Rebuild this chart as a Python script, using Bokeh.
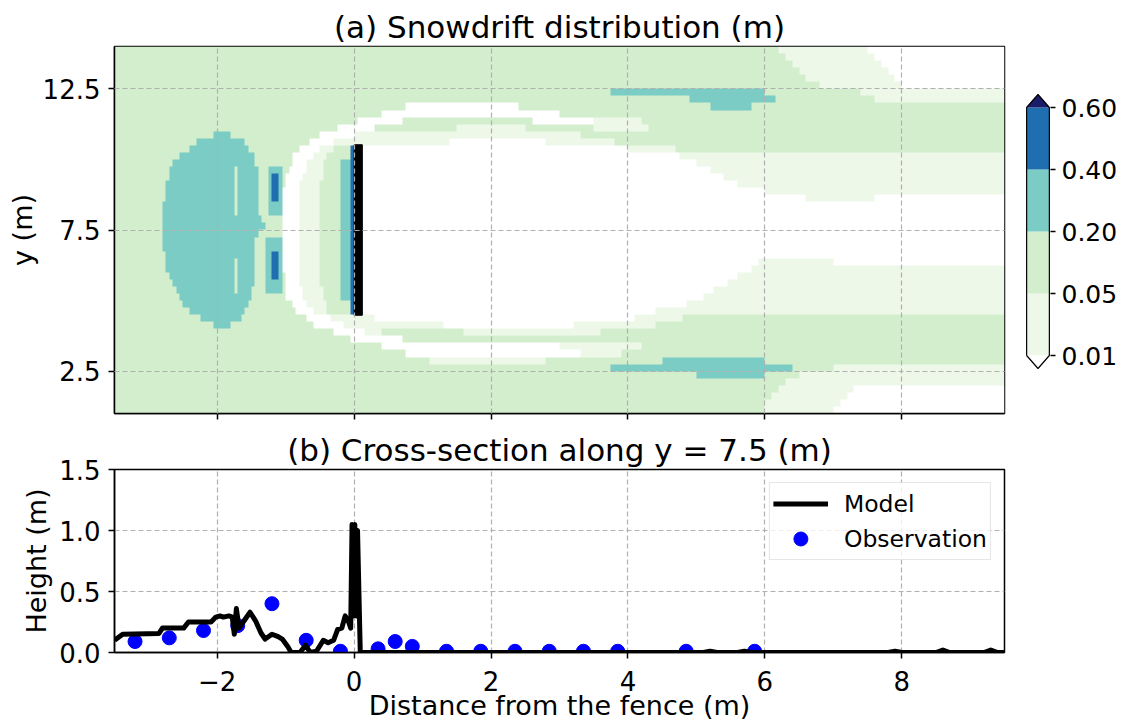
import numpy as np
from bokeh.plotting import figure
from bokeh.layouts import column, row
from bokeh.models import Range1d, FixedTicker, LinearColorMapper, Legend, LegendItem
from bokeh.embed import file_html
from bokeh.resources import INLINE

FONT = "DejaVu Sans"

# ---------------- domain ----------------
x_lo, x_hi = -3.5, 9.5
y_lo, y_hi = 1.0, 14.0
grid_dx = 0.05          # column width of the drift raster (m)

# ---------------- contour levels ----------------
level_bounds = [0.01, 0.05, 0.20, 0.40, 0.60]
level_labels = ["0.01", "0.05", "0.20", "0.40", "0.60"]
# under, 0.01-0.05, 0.05-0.20, 0.20-0.40, 0.40-0.60, over
level_colors = ["#ffffff", "#eef8e9", "#d3eecd", "#7bccc4", "#1f6fb0", "#1b1d6b"]

# Snowdrift depth class per 0.25 m strip, from y = 14 (top) down to y = 1.
# Each strip: "class|x_break|class|x_break|...|class", breaks in metres.
drift_rows = [
    "2|6.2|1|7.5|0",
    "2|6.3|1|7.6|0",
    "2|6.4|1|7.7|0",
    "2|6.5|1|7.8|0",
    "2|6.6|1|7.9|0",
    "2|6.8|1|8.0|0",
    "2|3.75|3|6.0|2|7.4|1",
    "2|4.9|3|6.15|2|7.6|1",
    "2|0.75|0|2.4|2|5.2|3|5.8|2",
    "2|0.4|0|3.0|2",
    "2|0.05|0|0.7|2|2.6|0|3.5|1|4.2|2",
    "2|-0.25|0|0.3|2|1.5|1|2.5|2|3.5|1|4.3|2",
    "2|-2.05|3|-1.8|2|-0.48|0|0.0|1|3.3|2",
    "2|-2.28|3|-1.62|2|-0.66|0|-0.3|1|1.4|0|2.8|1|3.8|2",
    "2|-2.42|3|-1.55|2|-0.8|0|-0.5|1|-0.3|2|-0.03|4|0|0|4.0|1|4.7|2",
    "2|-2.55|3|-1.47|2|-0.88|0|-0.6|1|-0.38|2|-0.03|4|0|0|4.75|1",
    "2|-2.63|3|-1.44|2|-0.92|0|-0.7|1|-0.45|2|-0.18|3|-0.07|2|-0.03|4|0|0|5.0|1",
    "2|-2.68|3|-1.76|2|-1.7|3|-1.42|2|-1.27|3|-1.05|2|-0.96|0|-0.72|1|-0.46|2|-0.18|3|-0.07|2|-0.03|4|0|0|5.2|1",
    "2|-2.71|3|-1.76|2|-1.7|3|-1.42|2|-1.27|3|-1.19|4|-1.12|3|-1.05|2|-0.99|0|-0.75|1|-0.47|2|-0.18|3|-0.07|2|-0.03|4|0|0|5.4|1",
    "2|-2.74|3|-1.76|2|-1.7|3|-1.42|2|-1.27|3|-1.19|4|-1.12|3|-1.05|2|-1.0|0|-0.78|1|-0.48|2|-0.18|3|-0.07|2|-0.03|4|0|0|5.6|1",
    "2|-2.76|3|-1.76|2|-1.7|3|-1.42|2|-1.27|3|-1.19|4|-1.12|3|-1.05|2|-1.03|0|-0.8|1|-0.48|2|-0.18|3|-0.07|2|-0.03|4|0|0|6.0|1",
    "2|-2.77|3|-1.76|2|-1.7|3|-1.42|2|-1.27|3|-1.19|4|-1.12|3|-1.06|2|-1.04|0|-0.8|1|-0.49|2|-0.18|3|-0.07|2|-0.03|4|0|0|6.6|1|7.6|0",
    "2|-2.78|3|-1.76|2|-1.7|3|-1.42|2|-1.27|3|-1.06|2|-1.04|0|-0.8|1|-0.5|2|-0.18|3|-0.07|2|-0.03|4|0|0",
    "2|-2.78|3|-1.76|2|-1.7|3|-1.4|2|-1.27|3|-1.06|2|-1.04|0|-0.8|1|-0.5|2|-0.18|3|-0.07|2|-0.03|4|0|0",
    "2|-2.78|3|-1.36|2|-1.05|0|-0.8|1|-0.5|2|-0.18|3|-0.07|2|-0.03|4|0|0",
    "2|-2.78|3|-1.32|2|-1.05|0|-0.8|1|-0.5|2|-0.18|3|-0.07|2|-0.03|4|0|0",
    "2|-2.78|3|-1.38|2|-1.05|0|-0.8|1|-0.5|2|-0.18|3|-0.07|2|-0.03|4|0|0",
    "2|-2.78|3|-1.45|2|-1.3|3|-1.07|2|-1.05|0|-0.8|1|-0.5|2|-0.18|3|-0.07|2|-0.03|4|0|0",
    "2|-2.78|3|-1.47|2|-1.3|3|-1.07|2|-1.05|0|-0.8|1|-0.5|2|-0.18|3|-0.07|2|-0.03|4|0|0",
    "2|-2.77|3|-1.47|2|-1.3|3|-1.19|4|-1.12|3|-1.07|2|-1.05|0|-0.8|1|-0.5|2|-0.18|3|-0.07|2|-0.03|4|0|0",
    "2|-2.75|3|-1.76|2|-1.7|3|-1.47|2|-1.3|3|-1.19|4|-1.12|3|-1.07|2|-1.05|0|-0.8|1|-0.5|2|-0.18|3|-0.07|2|-0.03|4|0|0|5.9|1|7.0|0",
    "2|-2.73|3|-1.76|2|-1.7|3|-1.47|2|-1.3|3|-1.19|4|-1.12|3|-1.07|2|-1.04|0|-0.8|1|-0.5|2|-0.18|3|-0.07|2|-0.03|4|0|0|5.8|1",
    "2|-2.7|3|-1.76|2|-1.7|3|-1.47|2|-1.3|3|-1.19|4|-1.12|3|-1.07|2|-1.02|0|-0.79|1|-0.49|2|-0.18|3|-0.07|2|-0.03|4|0|0|5.6|1",
    "2|-2.66|3|-1.76|2|-1.7|3|-1.47|2|-1.3|3|-1.07|2|-1.0|0|-0.78|1|-0.48|2|-0.18|3|-0.07|2|-0.03|4|0|0|5.45|1",
    "2|-2.61|3|-1.76|2|-1.7|3|-1.48|2|-1.3|3|-1.07|2|-0.99|0|-0.77|1|-0.47|2|-0.18|3|-0.07|2|-0.03|4|0|0|5.25|1",
    "2|-2.55|3|-1.5|2|-1.0|0|-0.75|1|-0.46|2|-0.18|3|-0.07|2|-0.03|4|0|0|5.1|1",
    "2|-2.48|3|-1.53|2|-0.92|0|-0.68|1|-0.42|2|-0.03|4|0|0|4.85|1",
    "2|-2.38|3|-1.6|2|-0.84|0|-0.58|1|-0.38|2|-0.03|4|0|0|4.4|1",
    "2|-2.25|3|-1.66|2|-0.72|0|-0.35|1|0.3|0|4.1|1|4.8|2",
    "2|-2.05|3|-1.78|2|-0.58|0|-0.15|1|1.3|0|3.2|1|4.4|2",
    "2|-0.32|0|0.15|1|0.4|2|1.6|1|3.6|2",
    "2|-0.05|0|0.7|2",
    "2|0.4|0|3.0|1|4.2|2",
    "2|0.75|0|3.3|1|3.9|2",
    "2|1.1|1|2.8|2|4.5|3|6.0|2",
    "2|3.75|3|6.4|2|7.0|1",
    "2|5.0|3|6.0|2|6.5|1",
    "2|6.3|1",
    "2|6.2|1|7.3|0",
    "2|6.1|1|7.2|0",
    "2|6.0|1|7.1|0",
    "2|6.0|1|7.0|0",
]

# Snow fence (x extent and y extent, m)
fence_x = [0.0, 0.12]
fence_y = [4.48, 10.52]

# ---------------- cross-section along y = 7.5 ----------------
model_x = [-3.5, -3.38, -2.85, -2.8, -2.49, -2.42, -2.09, -2.02, -1.96, -1.91,
           -1.83, -1.78, -1.75, -1.72, -1.68, -1.62, -1.52, -1.44, -1.36, -1.3,
           -1.2, -1.11, -1.05, -0.97, -0.92, -0.79, -0.71, -0.64, -0.55, -0.45,
           -0.38, -0.3, -0.24, -0.18, -0.13, -0.08, -0.05, -0.03, -0.01, 0.01,
           0.03, 0.05, 0.07, 0.09, 0.12, 5.1, 5.2, 5.3, 5.6, 5.7,
           5.8, 7.8, 7.9, 8.0, 8.5, 8.6, 8.7, 9.2, 9.3, 9.4, 9.5]
model_h = [0.1, 0.15, 0.156, 0.2, 0.2, 0.25, 0.25, 0.29, 0.3, 0.29,
           0.3, 0.29, 0.15, 0.36, 0.2, 0.25, 0.33, 0.26, 0.16, 0.11,
           0.15, 0.13, 0.11, 0.05, 0.0, 0.0, 0.06, 0.0, 0.01, 0.1,
           0.08, 0.1, 0.19, 0.2, 0.3, 0.25, 0.2, 1.05, 0.3, 1.05,
           0.3, 1.0, 0.5, 0.0, 0.0, 0.0, 0.01, 0.0, 0.0, 0.01,
           0.0, 0.0, 0.01, 0.0, 0.0, 0.02, 0.0, 0.0, 0.02, 0.0, 0.0]

obs_x = [-3.2, -2.7, -2.2, -1.7, -1.2, -0.7, -0.2, 0.35, 0.6, 0.85,
         1.35, 1.85, 2.35, 2.85, 3.35, 3.85, 4.85, 5.85]
obs_h = [0.09, 0.12, 0.18, 0.22, 0.40, 0.10, 0.01, 0.03, 0.09, 0.05,
         0.01, 0.01, 0.01, 0.01, 0.01, 0.01, 0.01, 0.01]

x_ticks = [-2, 0, 2, 4, 6, 8]
x_tick_labels = ["\u22122", "0", "2", "4", "6", "8"]
y_ticks_top = [2.5, 7.5, 12.5]
h_ticks = [0.0, 0.5, 1.0, 1.5]
h_tick_labels = ["0.0", "0.5", "1.0", "1.5"]


def rasterize(rows):
    ncol = int(round((x_hi - x_lo) / grid_dx))
    xc = x_lo + (np.arange(ncol) + 0.5) * grid_dx
    out = np.zeros((len(rows), ncol))
    for r, spec in enumerate(rows):
        parts = spec.split("|")
        levels = np.array([int(v) for v in parts[0::2]])
        edges = [float(v) for v in parts[1::2]]
        out[r] = levels[np.searchsorted(edges, xc, side="right")]
    return out[::-1].copy()   # first image row sits at the bottom


def style_axis(ax, tick_size="26px"):
    ax.major_label_text_font = FONT
    ax.major_label_text_font_size = tick_size
    ax.major_label_text_color = "black"
    ax.axis_label_text_font = FONT
    ax.axis_label_text_font_size = "27px"
    ax.axis_label_text_font_style = "normal"
    ax.axis_label_text_color = "black"
    ax.axis_line_color = "black"
    ax.axis_line_width = 1.5
    ax.major_tick_line_color = "black"
    ax.major_tick_line_width = 1.5
    ax.major_tick_out = 6
    ax.major_tick_in = 0
    ax.minor_tick_line_color = None


def style_grid(p, xt, yt, level="underlay"):
    p.xgrid.ticker = FixedTicker(ticks=xt)
    p.ygrid.ticker = FixedTicker(ticks=yt)
    for g in (p.xgrid, p.ygrid):
        g.grid_line_color = "#b0b0b0"
        g.grid_line_dash = "5 3"
        g.grid_line_width = 1.2
        g.level = level


def style_title(p, standoff):
    p.title.text_font = FONT
    p.title.text_font_size = "31px"
    p.title.text_font_style = "normal"
    p.title.text_color = "black"
    p.title.align = "center"
    p.title.standoff = standoff


# shared vertical layout of the map row (px)
map_border_top = 46
map_frame_h = 367
map_border_bottom = 12

# ---------------- (a) snowdrift map ----------------
top = figure(x_range=Range1d(x_lo, x_hi), y_range=Range1d(y_lo, y_hi),
             frame_width=890, frame_height=map_frame_h,
             min_border_left=114, min_border_right=6,
             min_border_top=map_border_top, min_border_bottom=map_border_bottom,
             title="(a) Snowdrift distribution (m)",
             output_backend="svg", toolbar_location=None)
style_title(top, 4)
top.outline_line_color = "black"
top.outline_line_width = 1.5

mapper = LinearColorMapper(palette=level_colors, low=-0.5, high=len(level_colors) - 0.5)
top.image(image=[rasterize(drift_rows)], x=x_lo, y=y_lo,
          dw=x_hi - x_lo, dh=y_hi - y_lo, color_mapper=mapper)
top.quad(left=[fence_x[0]], right=[fence_x[1]], bottom=[fence_y[0]], top=[fence_y[1]],
         fill_color="black", line_color="black")

top.xaxis.ticker = FixedTicker(ticks=x_ticks)
top.yaxis.ticker = FixedTicker(ticks=y_ticks_top)
style_axis(top.xaxis[0])
style_axis(top.yaxis[0])
# the map shares its x labels with the cross-section below: ticks only
top.xaxis.major_label_overrides = {t: "" for t in x_ticks}
top.xaxis.major_label_text_font_size = "1px"
top.xaxis.major_label_text_color = None
top.xaxis.major_label_standoff = 0
top.yaxis.axis_label = "y (m)"
top.yaxis.major_label_standoff = 8
top.yaxis.axis_label_standoff = 2
style_grid(top, x_ticks, y_ticks_top, level="overlay")

# ---------------- colour bar ----------------
n_bins = len(level_bounds) - 1
bin_px = 62.0            # height of one colour bin (px)
ext = 13 / bin_px        # extension triangle height, in bin units
cb_lo = -58 / bin_px     # frame bottom sits 58 px below the 0.01 tick
cb = figure(x_range=Range1d(-0.05, 1.05),
            y_range=Range1d(cb_lo, cb_lo + map_frame_h / bin_px),
            frame_width=25, frame_height=map_frame_h,
            min_border_left=15, min_border_right=78,
            min_border_top=map_border_top, min_border_bottom=map_border_bottom,
            x_axis_location=None, y_axis_location="right",
            output_backend="svg", toolbar_location=None)
cb.outline_line_color = None
cb.grid.visible = False
cb.quad(left=0, right=1, bottom=list(range(n_bins)), top=list(range(1, n_bins + 1)),
        fill_color=level_colors[1:1 + n_bins], line_color=None)
cb.patches(xs=[[0, 1, 0.5], [0, 1, 0.5]],
           ys=[[n_bins, n_bins, n_bins + ext], [0, 0, -ext]],
           fill_color=[level_colors[-1], level_colors[0]], line_color=None)
cb.line(x=[0, 0, 0.5, 1, 1, 0.5, 0], y=[0, n_bins, n_bins + ext, n_bins, 0, -ext, 0],
        line_color="black", line_width=1.2)
cb.yaxis.ticker = FixedTicker(ticks=list(range(len(level_bounds))))
cb.yaxis.major_label_overrides = {i: lab for i, lab in enumerate(level_labels)}
style_axis(cb.yaxis[0], tick_size="25px")
cb.yaxis.axis_line_color = None
cb.yaxis.major_tick_out = 5
cb.yaxis.major_label_standoff = 6

# ---------------- (b) cross-section ----------------
bot = figure(x_range=Range1d(x_lo, x_hi), y_range=Range1d(0, 1.5),
             frame_width=890, frame_height=183,
             min_border_left=114, min_border_right=124,
             min_border_top=44, min_border_bottom=70,
             title="(b) Cross-section along y = 7.5 (m)",
             output_backend="svg", toolbar_location=None)
style_title(bot, 4)
bot.outline_line_color = "black"
bot.outline_line_width = 1.5
style_grid(bot, x_ticks, h_ticks)

obs_r = bot.scatter(obs_x, obs_h, size=14, marker="circle", fill_color="#0000ff", line_color="#0000ff")
mod_r = bot.line(model_x, model_h, line_color="black", line_width=5, line_join="round")

bot.xaxis.ticker = FixedTicker(ticks=x_ticks)
bot.xaxis.major_label_overrides = {t: lab for t, lab in zip(x_ticks, x_tick_labels)}
bot.yaxis.ticker = FixedTicker(ticks=h_ticks)
bot.yaxis.major_label_overrides = {t: lab for t, lab in zip(h_ticks, h_tick_labels)}
style_axis(bot.xaxis[0])
style_axis(bot.yaxis[0])
bot.xaxis.axis_label = "Distance from the fence (m)"
bot.yaxis.axis_label = "Height (m)"
bot.xaxis.major_label_standoff = 12
bot.xaxis.axis_label_standoff = -4
bot.yaxis.major_label_standoff = 8
bot.yaxis.axis_label_standoff = 4

legend = Legend(items=[LegendItem(label="Model", renderers=[mod_r]),
                       LegendItem(label="Observation", renderers=[obs_r])],
                location="top_right")
legend.label_text_font = FONT
legend.label_text_font_size = "23.5px"
legend.label_text_color = "black"
legend.border_line_color = "#cccccc"
legend.border_line_width = 1
legend.background_fill_color = "white"
legend.background_fill_alpha = 0.8
legend.glyph_width = 55
legend.glyph_height = 35
legend.label_height = 26
legend.label_standoff = 16
legend.spacing = 0
legend.padding = 3
legend.margin = 13
bot.add_layout(legend)

layout = column(row(top, cb), bot)
open("out.html", "w").write(file_html(layout, INLINE))
